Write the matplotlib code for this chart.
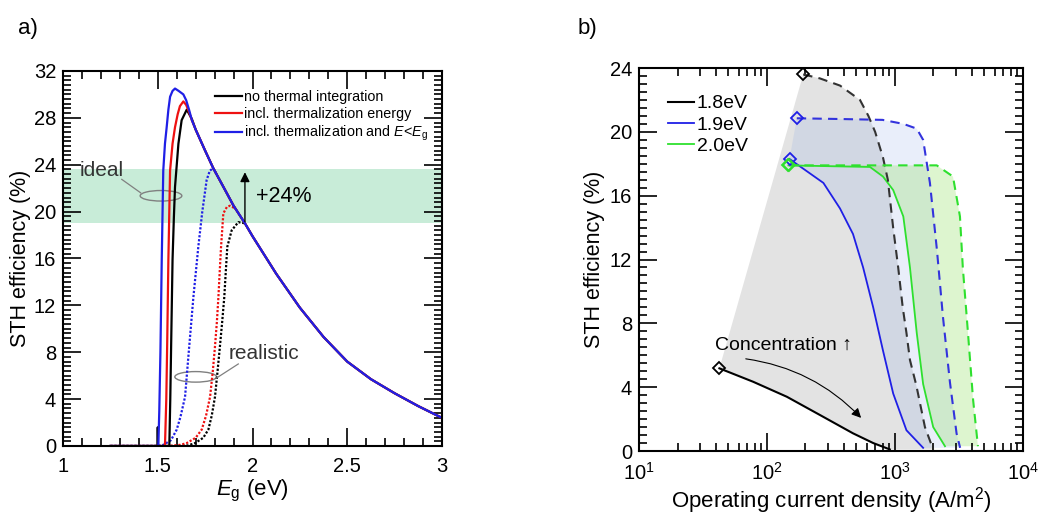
import numpy as np
import matplotlib
matplotlib.use("Agg")
import matplotlib.pyplot as plt
from matplotlib.ticker import MultipleLocator, FuncFormatter, LogLocator
from matplotlib.patches import Ellipse

plt.rcParams['font.family'] = ['Liberation Sans', 'DejaVu Sans']
plt.rcParams['mathtext.fontset'] = 'custom'
plt.rcParams['mathtext.rm'] = 'Liberation Sans'
plt.rcParams['mathtext.it'] = 'Liberation Sans:italic'

# ---------------- panel a data ----------------
# shared high-Eg tail of all three ideal curves
E_tail = [1.70, 1.75, 1.793, 1.85, 1.90, 1.96, 2.0, 2.125, 2.25, 2.375, 2.5, 2.625, 2.75, 2.875, 3.0]
sth_tail = [27.0, 25.2, 23.7, 22.0, 20.5, 19.0, 17.9, 14.7, 11.8, 9.3, 7.2, 5.7, 4.5, 3.4, 2.4]

# ideal, no thermal integration (black solid)
E_ideal_k = [1.25, 1.499, 1.50, 1.501, 1.561, 1.566, 1.571, 1.578, 1.585, 1.591, 1.609, 1.626, 1.653, 1.68]
sth_ideal_k = [0, 0, 1.6, 0, 0, 4, 9, 15.9, 19.5, 22.1, 25.8, 27.8, 28.7, 27.9]
# ideal, incl. thermalization energy (red solid)
E_ideal_r = [1.25, 1.538, 1.545, 1.550, 1.556, 1.565, 1.578, 1.591, 1.605, 1.617, 1.635, 1.65, 1.665, 1.68]
sth_ideal_r = [0, 0, 4, 9, 15.9, 23.5, 25.8, 27.2, 28.3, 29.0, 29.4, 29.1, 28.5, 27.8]
# ideal, incl. thermalization and E<Eg (blue solid)
E_ideal_b = [1.25, 1.503, 1.508, 1.514, 1.521, 1.529, 1.538, 1.547, 1.556, 1.565, 1.578, 1.591, 1.61, 1.635, 1.65, 1.665, 1.68]
sth_ideal_b = [0, 0, 3, 8, 15.9, 23.5, 25.8, 27.2, 28.7, 29.8, 30.3, 30.5, 30.3, 30.0, 29.5, 28.7, 27.8]

# realistic curves (dotted)
E_real_k = [1.25, 1.60, 1.66, 1.697, 1.74, 1.767, 1.785, 1.802, 1.815, 1.828, 1.84, 1.851, 1.859, 1.867, 1.89, 1.925, 1.96]
sth_real_k = [0, 0, 0.05, 0.25, 0.7, 1.4, 2.6, 4.2, 6.3, 8.5, 10.6, 12.7, 14.9, 17.0, 18.4, 19.1, 19.0]
E_real_r = [1.25, 1.55, 1.62, 1.653, 1.70, 1.732, 1.755, 1.776, 1.79, 1.802, 1.812, 1.82, 1.827, 1.834, 1.846, 1.865, 1.881, 1.905]
sth_real_r = [0, 0, 0.1, 0.25, 0.7, 1.4, 2.6, 4.2, 6.3, 8.5, 10.6, 12.7, 14.9, 17.0, 19.85, 20.4, 20.5, 20.3]
E_real_b = [1.25, 1.50, 1.53, 1.57, 1.60, 1.62, 1.644, 1.666, 1.688, 1.714, 1.735, 1.758, 1.775, 1.793, 1.81]
sth_real_b = [0, 0, 0.1, 0.5, 1.4, 2.5, 4.2, 8.5, 12.7, 17.0, 20.0, 22.7, 23.5, 23.7, 23.2]

band_lo, band_hi = 19.0, 23.6

# ---------------- panel b data ----------------
j18_solid = [42.5, 78, 143, 259, 470, 676, 912]
s18_solid = [5.18, 4.34, 3.4, 2.26, 1.11, 0.5, 0.1]
j18_dash = [192, 259, 372, 533, 620, 700, 806, 880, 968, 1060, 1150, 1230, 1310, 1470, 1715, 1990]
s18_dash = [23.6, 23.35, 22.9, 22.0, 21.0, 20.0, 18.4, 17.0, 14.0, 11.5, 9.0, 7.4, 5.7, 4.1, 1.5, 0.1]

j19_solid = [150, 276, 372, 470, 564, 676, 806, 969, 1230, 1660]
s19_solid = [18.3, 16.8, 15.2, 13.6, 11.5, 9.0, 6.3, 3.6, 1.3, 0.2]
j19_dash = [171, 400, 800, 1162, 1480, 1660, 1876, 2128, 2372, 2690, 3030, 3230]
s19_dash = [20.85, 20.8, 20.75, 20.5, 20.2, 19.5, 16.8, 12.6, 8.4, 4.3, 1.1, 0.2]

j20_solid = [147, 300, 638, 806, 969, 1162, 1310, 1480, 1660, 1990, 2460]
s20_solid = [17.9, 17.85, 17.8, 17.2, 16.35, 14.7, 11.5, 7.4, 4.2, 1.5, 0.3]
j20_dash = [148, 800, 2120, 2840, 3220, 3390, 3720, 4080, 4450]
s20_dash = [17.9, 17.9, 17.9, 17.2, 14.7, 11.5, 7.4, 3.2, 0.3]

BLUE = '#1f1fe6'
RED = '#ee1111'
GREEN = '#2ee02e'

fig = plt.figure(figsize=(10.4, 5.18), dpi=100)
axa = fig.add_axes([0.0606, 0.139, 0.3644, 0.724])
axb = fig.add_axes([0.6144, 0.1293, 0.3692, 0.7394])


def style_ticks(ax):
    ax.tick_params(which='both', direction='in', top=True, right=True,
                   labelsize=14.5, width=1.2)
    ax.tick_params(which='major', length=13)
    ax.tick_params(which='minor', length=6)
    for s in ax.spines.values():
        s.set_linewidth(1.5)


# ---------------- panel a ----------------
ax = axa
ax.axhspan(band_lo, band_hi, color='#c8ecd8', zorder=0, lw=0)

ax.plot(E_real_k, sth_real_k, color='k', ls=(0, (1, 0.8)), lw=1.6)
ax.plot(E_real_r, sth_real_r, color=RED, ls=(0, (1, 0.8)), lw=1.6)
ax.plot(E_real_b, sth_real_b, color=BLUE, ls=(0, (1, 0.8)), lw=1.6)

ax.plot(E_ideal_k + E_tail, sth_ideal_k + sth_tail, color='k', lw=1.6,
        label='no thermal integration')
ax.plot(E_ideal_r + E_tail, sth_ideal_r + sth_tail, color=RED, lw=1.6,
        label='incl. thermalization energy')
ax.plot(E_ideal_b + E_tail, sth_ideal_b + sth_tail, color=BLUE, lw=1.6,
        label=r'incl. thermalization and $E$<$E_\mathrm{g}$')

ax.annotate('', xy=(1.96, band_hi), xytext=(1.96, 18.9),
            arrowprops=dict(arrowstyle='-|>', color='k', lw=1.0, mutation_scale=14))
ax.text(2.02, 21.3, '+24%', fontsize=15.5, va='center', ha='left')

ax.add_patch(Ellipse((1.517, 21.35), 0.22, 0.9, fill=False, ec='#808080', lw=1))
ax.plot([1.31, 1.41], [22.75, 21.6], color='#808080', lw=0.9)
ax.text(1.09, 23.5, 'ideal', fontsize=15, va='center', ha='left', color='#333333')

ax.add_patch(Ellipse((1.70, 5.9), 0.22, 0.9, fill=False, ec='#808080', lw=1))
ax.plot([1.81, 1.925], [5.8, 7.0], color='#808080', lw=0.9)
ax.text(1.875, 7.9, 'realistic', fontsize=15, va='center', ha='left', color='#333333')

ax.set_xlim(1, 3)
ax.set_ylim(0, 32)
ax.xaxis.set_major_locator(MultipleLocator(0.5))
ax.xaxis.set_minor_locator(MultipleLocator(0.1))
ax.yaxis.set_major_locator(MultipleLocator(4))
ax.yaxis.set_minor_locator(MultipleLocator(0.4))
ax.xaxis.set_major_formatter(FuncFormatter(lambda v, p: '%g' % v))
style_ticks(ax)
ax.tick_params(axis='x', pad=8)
ax.tick_params(axis='y', pad=5)
ax.set_xlabel(r'$E_\mathrm{g}$ (eV)', fontsize=16, labelpad=1)
ax.set_ylabel('STH efficiency (%)', fontsize=15.5, labelpad=2)
ax.legend(loc='upper left', bbox_to_anchor=(0.40, 0.95), frameon=False,
          fontsize=10.3, handlelength=1.9, handletextpad=0.15, labelspacing=0.22,
          borderaxespad=0, borderpad=0)
fig.text(0.017, 0.945, 'a)', fontsize=16, va='center')

# ---------------- panel b ----------------
ax = axb
ax.fill(j18_solid + j18_dash[::-1], s18_solid + s18_dash[::-1],
        color='#e3e3e3', lw=0, zorder=0)
ax.fill(j19_solid + j19_dash[::-1], s19_solid + s19_dash[::-1],
        color='#7ea0e6', alpha=0.17, lw=0, zorder=0.5)
ax.fill(j20_solid + j20_dash[::-1], s20_solid + s20_dash[::-1],
        color='#88dd55', alpha=0.28, lw=0, zorder=0.6)

ax.plot(j18_solid, s18_solid, color='k', lw=1.5, label='1.8eV')
ax.plot(j19_solid, s19_solid, color=BLUE, lw=1.3, label='1.9eV')
ax.plot(j20_solid, s20_solid, color=GREEN, lw=1.3, label='2.0eV')
ax.plot(j18_dash, s18_dash, color='#333333', lw=1.5, ls=(0, (4.5, 3)))
ax.plot(j19_dash, s19_dash, color='#3333dd', lw=1.5, ls=(0, (4.5, 3)))
ax.plot(j20_dash, s20_dash, color=GREEN, lw=1.5, ls=(0, (4.5, 3)))

for jj, ss, c in [(j18_solid, s18_solid, 'k'), (j18_dash, s18_dash, 'k'),
                  (j19_solid, s19_solid, BLUE), (j19_dash, s19_dash, BLUE),
                  (j20_solid, s20_solid, GREEN), (j20_dash, s20_dash, GREEN)]:
    ax.plot(jj[0], ss[0], marker='D', ms=6, mfc='none', mec=c, mew=1.3)

ax.text(39.3, 6.64, 'Concentration \u2191', fontsize=14, va='center', ha='left')
ax.annotate('', xy=(563, 1.95), xytext=(65, 5.8),
            arrowprops=dict(arrowstyle='-|>', color='k', lw=0.8, mutation_scale=14,
                            connectionstyle='arc3,rad=-0.18'))

ax.set_xscale('log')
ax.set_xlim(10, 1e4)
ax.set_ylim(0, 24)
ax.xaxis.set_major_locator(LogLocator(base=10, numticks=10))
ax.xaxis.set_minor_locator(LogLocator(base=10, subs=np.arange(2, 10), numticks=10))
ax.yaxis.set_major_locator(MultipleLocator(4))
ax.yaxis.set_minor_locator(MultipleLocator(0.5))
style_ticks(ax)
ax.tick_params(axis='x', pad=8)
ax.tick_params(axis='y', pad=5)
ax.set_xlabel(r'Operating current density (A/m$^2$)', fontsize=16, labelpad=1)
ax.set_ylabel('STH efficiency (%)', fontsize=15.5, labelpad=3)
ax.legend(loc='upper left', bbox_to_anchor=(0.075, 0.93), frameon=False, fontsize=14,
          handlelength=1.35, handletextpad=0.15, labelspacing=0.18,
          borderaxespad=0, borderpad=0)
fig.text(0.555, 0.945, 'b)', fontsize=16, va='center')

fig.savefig('out.png', dpi=100)
